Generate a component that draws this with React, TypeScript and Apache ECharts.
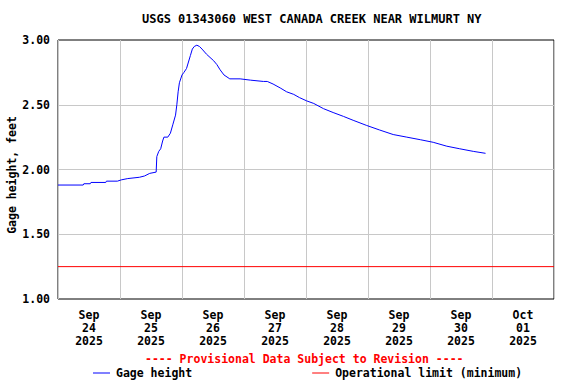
import React, { useEffect, useRef } from "react";
import * as echarts from "echarts";

const TITLE = "USGS 01343060 WEST CANADA CREEK NEAR WILMURT NY";
const PROVISIONAL = "---- Provisional Data Subject to Revision ----";
const Y_NAME = "Gage height, feet";
const SERIES_GAGE = "Gage height";
const SERIES_LIMIT = "Operational limit (minimum)";

const X_MIN = "2025-09-24 00:00";
const X_MAX = "2025-10-02 00:00";
const DAY_LABELS = [
  "Sep\n24\n2025",
  "Sep\n25\n2025",
  "Sep\n26\n2025",
  "Sep\n27\n2025",
  "Sep\n28\n2025",
  "Sep\n29\n2025",
  "Sep\n30\n2025",
  "Oct\n01\n2025",
];
const Y_MIN = 1;
const Y_MAX = 3;
const Y_STEP = 0.5;
const OPERATIONAL_LIMIT = 1.25;

const TIMES = [
  "2025-09-24 00:00", "2025-09-24 09:45", "2025-09-24 10:00", "2025-09-24 12:30",
  "2025-09-24 12:45", "2025-09-24 18:30", "2025-09-24 18:45", "2025-09-24 23:00",
  "2025-09-25 00:30", "2025-09-25 03:00", "2025-09-25 07:30", "2025-09-25 09:30",
  "2025-09-25 11:30", "2025-09-25 14:00", "2025-09-25 14:15", "2025-09-25 15:00",
  "2025-09-25 15:45", "2025-09-25 16:30", "2025-09-25 17:00", "2025-09-25 18:30",
  "2025-09-25 19:30", "2025-09-25 20:30", "2025-09-25 21:30", "2025-09-25 22:00",
  "2025-09-25 22:30", "2025-09-25 23:00", "2025-09-26 00:00", "2025-09-26 00:45",
  "2025-09-26 01:45", "2025-09-26 02:30", "2025-09-26 03:15", "2025-09-26 04:00",
  "2025-09-26 04:45", "2025-09-26 05:45", "2025-09-26 06:45", "2025-09-26 07:45",
  "2025-09-26 09:30", "2025-09-26 12:15", "2025-09-26 13:30", "2025-09-26 14:45",
  "2025-09-26 16:15", "2025-09-26 18:30", "2025-09-26 22:30", "2025-09-27 02:30",
  "2025-09-27 07:30", "2025-09-27 09:00", "2025-09-27 11:15", "2025-09-27 14:00",
  "2025-09-27 16:30", "2025-09-27 19:15", "2025-09-27 21:30", "2025-09-28 00:15",
  "2025-09-28 03:00", "2025-09-28 06:45", "2025-09-28 10:30", "2025-09-28 14:30",
  "2025-09-28 18:15", "2025-09-28 23:30", "2025-09-29 04:30", "2025-09-29 09:45",
  "2025-09-29 15:00", "2025-09-29 20:15", "2025-09-30 01:15", "2025-09-30 06:30",
  "2025-09-30 11:30", "2025-09-30 16:45", "2025-09-30 21:30",
];
const GAGE_HEIGHT = [
  1.88, 1.88, 1.89, 1.89,
  1.9, 1.9, 1.91, 1.91,
  1.92, 1.93, 1.94, 1.95,
  1.97, 1.98, 2.1, 2.14,
  2.16, 2.22, 2.25, 2.25,
  2.28, 2.35, 2.42, 2.5,
  2.6, 2.67, 2.73, 2.75,
  2.78, 2.83, 2.88, 2.93,
  2.95, 2.96, 2.95, 2.93,
  2.89, 2.84, 2.81, 2.77,
  2.73, 2.7, 2.7, 2.69,
  2.68, 2.68, 2.66, 2.63,
  2.6, 2.58, 2.555, 2.53,
  2.51, 2.47, 2.44, 2.41,
  2.38, 2.34, 2.305, 2.27,
  2.25, 2.23, 2.21, 2.18,
  2.16, 2.14, 2.125,
];

const FONT = "'DejaVu Sans Mono', 'Liberation Mono', monospace";
const DAY_MS = 86400000;

export default function App() {
  const ref = useRef<HTMLDivElement>(null);

  useEffect(() => {
    if (!ref.current) return;
    const chart = echarts.init(ref.current, undefined, { renderer: "svg" });
    const textBase = { fontFamily: FONT, fontWeight: "bold" as const, fontSize: 11.5, color: "#000" };

    chart.setOption({
      animation: false,
      backgroundColor: "#fff",
      grid: {
        left: 58,
        right: 22,
        top: 40,
        bottom: 85,
        show: true,
        borderColor: "#000",
        borderWidth: 1,
        containLabel: false,
        outerBoundsMode: "none",
      },
      graphic: [
        {
          type: "text",
          left: 142,
          top: 13,
          style: { text: TITLE, font: `bold 12px ${FONT}`, fill: "#000" },
          z: 10,
        },
        {
          type: "text",
          left: 145,
          top: 353,
          style: { text: PROVISIONAL, font: `bold 11.5px ${FONT}`, fill: "#ff0000" },
          z: 10,
        },
        {
          type: "text",
          x: 12,
          y: 175,
          rotation: Math.PI / 2,
          style: {
            text: Y_NAME,
            font: `bold 11.5px ${FONT}`,
            fill: "#000",
            align: "center",
            verticalAlign: "middle",
          },
          z: 10,
        },
      ],
      legend: {
        left: 93,
        top: 367,
        padding: 0,
        icon: "rect",
        itemWidth: 17,
        itemHeight: 1,
        itemGap: 120,
        textStyle: { ...textBase, padding: [0, 0, 0, 1] },
        data: [SERIES_GAGE, SERIES_LIMIT],
      },
      xAxis: [
        {
          type: "time",
          min: X_MIN,
          max: X_MAX,
          minInterval: DAY_MS,
          maxInterval: DAY_MS,
          axisLine: { show: false },
          axisTick: { show: false },
          axisLabel: { show: false },
          splitLine: {
            show: true,
            showMinLine: false,
            showMaxLine: false,
            lineStyle: { color: "#c8c8c8", width: 1 },
          },
        },
        {
          type: "category",
          data: DAY_LABELS,
          boundaryGap: true,
          position: "bottom",
          axisLine: { show: false },
          axisTick: { show: false },
          splitLine: { show: false },
          axisLabel: { ...textBase, interval: 0, margin: 9, lineHeight: 13 },
        },
      ],
      yAxis: {
        type: "value",
        min: Y_MIN,
        max: Y_MAX,
        interval: Y_STEP,
        axisLine: { show: false },
        axisTick: { show: false },
        axisLabel: {
          ...textBase,
          margin: 8,
          formatter: (v: number) => v.toFixed(2),
        },
        splitLine: {
          show: true,
          showMinLine: false,
          showMaxLine: false,
          lineStyle: { color: "#c8c8c8", width: 1 },
        },
      },
      series: [
        {
          name: SERIES_GAGE,
          type: "line",
          xAxisIndex: 0,
          data: TIMES.map((t, i) => [t, GAGE_HEIGHT[i]]),
          symbol: "none",
          lineStyle: { color: "#0000ff", width: 1 },
          itemStyle: { color: "#0000ff" },
          z: 5,
        },
        {
          name: SERIES_LIMIT,
          type: "line",
          xAxisIndex: 0,
          data: [
            [X_MIN, OPERATIONAL_LIMIT],
            [X_MAX, OPERATIONAL_LIMIT],
          ],
          symbol: "none",
          lineStyle: { color: "#ff0000", width: 1 },
          itemStyle: { color: "#ff0000" },
          z: 4,
        },
      ],
    });

    return () => chart.dispose();
  }, []);

  return <div ref={ref} style={{ width: 576, height: 384, position: "absolute", left: 0, top: 0 }} />;
}
